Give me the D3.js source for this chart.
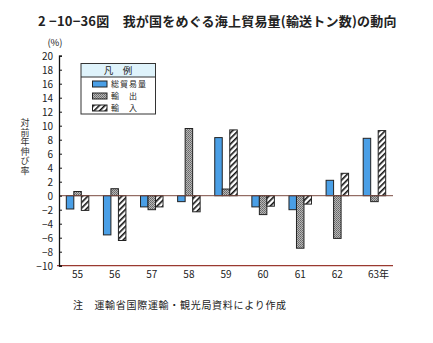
<!DOCTYPE html>
<html><head><meta charset="utf-8">
<script src="https://cdn.jsdelivr.net/npm/d3@7"></script>
<style>body{margin:0;background:#fff}svg{display:block}</style>
</head><body>
<svg id="c" width="433" height="343"></svg>
<script>
const years = ["55","56","57","58","59","60","61","62","63"];
const yearLabels = ["55","56","57","58","59","60","61","62","63年"];
const total = [-1.9,-5.6,-1.6,-0.85,8.3,-1.6,-2.0,2.2,8.2];
const exportsV = [0.6,1.0,-2.0,9.6,0.95,-2.7,-7.5,-6.1,-0.85];
const importsV = [-2.1,-6.4,-1.6,-2.3,9.4,-1.5,-1.2,3.2,9.3];
const seriesNames = ["総貿易量","輸　出","輸　入"];
const yTicks = [20,18,16,14,12,10,8,6,4,2,0,-2,-4,-6,-8,-10];

const svg = d3.select("#c");
const font = "'Noto Sans CJK JP', sans-serif";
const defs = svg.append("defs");
// stipple pattern
const st = defs.append("pattern").attr("id","stip").attr("width",2).attr("height",2).attr("patternUnits","userSpaceOnUse");
st.append("rect").attr("width",2).attr("height",2).attr("fill","#b8b8b8");
st.append("rect").attr("width",1).attr("height",1).attr("fill","#666");
st.append("rect").attr("x",1).attr("y",1).attr("width",1).attr("height",1).attr("fill","#777");
// hatch pattern
const ht = defs.append("pattern").attr("id","hatch").attr("width",4).attr("height",4).attr("patternUnits","userSpaceOnUse").attr("patternTransform","rotate(45)");
ht.append("rect").attr("width",4).attr("height",4).attr("fill","#fff");
ht.append("rect").attr("width",1.6).attr("height",4).attr("fill","#111");

const fills = ["#4a9fe6","url(#stip)","url(#hatch)"];
const data = [total, exportsV, importsV];

const x = d3.scaleBand().domain(years).range([59,393]);
const y = d3.scaleLinear().domain([-10,20]).range([265.7,55.7]);
const bw = 7.5;

// title
svg.append("text").attr("x",38).attr("y",26).attr("font-family",font).attr("font-size",13).attr("font-weight","bold").attr("fill","#222")
  .attr("letter-spacing",0.2)
  .text("2 −10−36図　我が国をめぐる海上貿易量(輸送トン数)の動向");

// bars
data.forEach((vals,si)=>{
  svg.append("g").selectAll("rect").data(vals).join("rect")
    .attr("x",(d,i)=>x(years[i])+x.bandwidth()/2 - 1.5*bw + si*bw)
    .attr("y",d=>y(Math.max(0,d)))
    .attr("width",bw)
    .attr("height",d=>Math.abs(y(d)-y(0)))
    .attr("fill",fills[si]).attr("stroke","#222").attr("stroke-width",1);
});

// zero line
svg.append("line").attr("x1",59).attr("x2",393).attr("y1",y(0)).attr("y2",y(0)).attr("stroke","#7a4a40").attr("stroke-width",1);
// bottom line
svg.append("line").attr("x1",57).attr("x2",393).attr("y1",y(-10)).attr("y2",y(-10)).attr("stroke","#9a3a30").attr("stroke-width",1.2);

// y axis
const ya = svg.append("g").attr("transform","translate(59,0)")
  .call(d3.axisRight(y).tickValues(yTicks).tickSize(3).tickFormat(""));
ya.select(".domain").attr("stroke","#111").attr("stroke-width",1.3);
ya.selectAll(".tick line").attr("stroke","#111");
svg.append("g").selectAll("text").data(yTicks).join("text")
  .attr("x",53).attr("y",d=>y(d)+4).attr("text-anchor","end")
  .attr("font-family",font).attr("font-size",10).attr("fill","#222")
  .text(d=>d<0?"−"+Math.abs(d):d);
svg.append("text").attr("x",55).attr("y",45.5).attr("text-anchor","middle").attr("font-family",font).attr("font-size",9.5).attr("fill","#222").text("(%)");

// y title vertical (single text element, upright vertical writing)
svg.append("text").attr("x",25).attr("y",118)
  .attr("font-family",font).attr("font-size",9).attr("fill","#333")
  .style("writing-mode","vertical-rl").style("text-orientation","upright")
  .attr("letter-spacing",0.6)
  .text("対前年伸び率");

// x labels
svg.append("g").selectAll("text").data(years).join("text")
  .attr("x",(d,i)=>x(d)+x.bandwidth()/2 + (i===8?4:0)).attr("y",278).attr("text-anchor","middle")
  .attr("font-family",font).attr("font-size",10).attr("fill","#222")
  .text((d,i)=>yearLabels[i]);

// legend
const lg = svg.append("g");
lg.append("rect").attr("x",81).attr("y",63.5).attr("width",74.5).attr("height",13.5).attr("fill","#dff3fb");
lg.append("rect").attr("x",81).attr("y",63.5).attr("width",74.5).attr("height",50.5).attr("fill","none").attr("stroke","#333").attr("stroke-width",1);
lg.append("line").attr("x1",81).attr("x2",155.5).attr("y1",77).attr("y2",77).attr("stroke","#333");
lg.append("text").attr("x",118).attr("y",74).attr("text-anchor","middle").attr("font-family",font).attr("font-size",9.5).attr("fill","#222").text("凡　例");
seriesNames.forEach((n,i)=>{
  const yy = 81 + i*12;
  lg.append("rect").attr("x",92.5).attr("y",yy).attr("width",14.5).attr("height",6).attr("fill",fills[i]).attr("stroke","#222");
  lg.append("text").attr("x",111).attr("y",yy+6.2).attr("font-family",font).attr("font-size",8).attr("letter-spacing",1).attr("fill","#222").text(n);
});

// footnote
svg.append("text").attr("x",73).attr("y",309).attr("font-family","'Noto Sans CJK JP', serif").attr("font-size",10).attr("fill","#222")
  .attr("letter-spacing",0.7)
  .text("注　運輸省国際運輸・観光局資料により作成");
</script>
</body></html>
